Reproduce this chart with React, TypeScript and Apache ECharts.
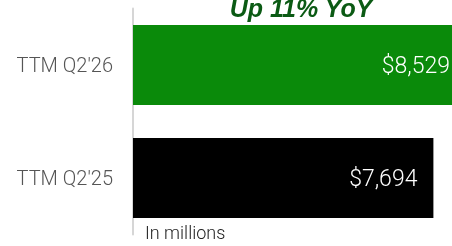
import React, { useEffect, useRef } from "react";
import * as echarts from "echarts";

const categories = ["TTM Q2'26", "TTM Q2'25"];
const values = [8529, 7694];
const barColors = ["#0a8a0a", "#000000"];
const valueLabels = ["$8,529", "$7,694"];
const headline = "Up 11% YoY";
const unitNote = "In millions";

export default function App() {
  const ref = useRef<HTMLDivElement>(null);
  useEffect(() => {
    if (!ref.current) return;
    const chart = echarts.init(ref.current, null, { renderer: "svg" });
    chart.setOption({
      animation: false,
      grid: { left: 133, right: 0, top: 8.5, bottom: 246 - 234.5 },
      xAxis: {
        type: "value",
        min: 0,
        max: 8529,
        show: false,
      },
      yAxis: {
        type: "category",
        inverse: true,
        data: categories,
        axisLine: { show: true, lineStyle: { color: "#d6d6d6", width: 2 } },
        axisTick: { show: false },
        axisLabel: {
          margin: 20,
          color: "#555555",
          fontFamily: "Roboto",
          fontWeight: 300,
          fontSize: 20,
        },
      },
      series: [
        {
          type: "bar",
          barWidth: 80,
          data: values.map((v, i) => ({
            value: v,
            itemStyle: { color: barColors[i] },
            label: {
              show: true,
              position: "insideRight",
              distance: 16,
              formatter: () => valueLabels[i],
              color: "#ffffff",
              fontFamily: "Roboto",
              fontWeight: 300,
              fontSize: 23,
            },
          })),
        },
      ],
      graphic: [
        {
          type: "text",
          x: 301,
          y: 8,
          style: {
            text: headline,
            fill: "#0b5a14",
            font: "italic bold 25px 'Liberation Sans'",
            textAlign: "center",
            textVerticalAlign: "middle",
          },
        },
        {
          type: "text",
          left: 145,
          top: 223,
          style: {
            text: unitNote,
            fill: "#222222",
            font: "300 18px Roboto",
          },
        },
      ],
    });
    return () => chart.dispose();
  }, []);
  return (
    <div style={{ position: "fixed", left: 0, top: 0, width: 452, height: 246, overflow: "hidden" }}>
      <div ref={ref} style={{ width: 466, height: 246 }} />
    </div>
  );
}
